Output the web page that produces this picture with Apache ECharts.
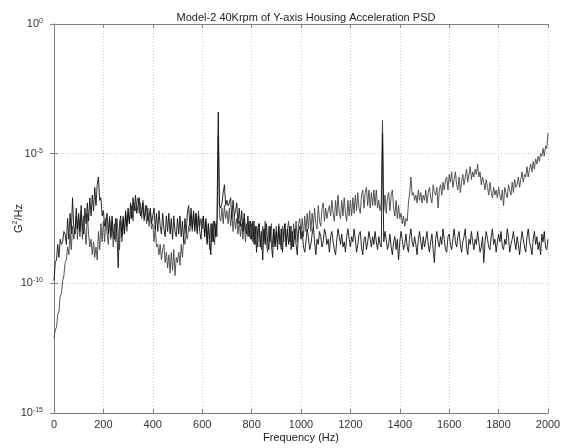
<!DOCTYPE html>
<html>
<head>
<meta charset="utf-8">
<script src="https://cdn.jsdelivr.net/npm/echarts@6/dist/echarts.min.js"></script>
<style>
  html, body { margin: 0; padding: 0; background: #fff; }
  #chart-panel { width: 567px; height: 448px; }
</style>
</head>
<body>
<div id="chart-panel"></div>
<script>
// frequency step of the sampled psd (Hz)
var STEP = 5;

// log10 of PSD (G^2/Hz), one value every 5 Hz, 0..2000 Hz
// run 1: rises above 1 kHz
var psdA = [
  -12.1,-11.8,-11.7,-11.2,-11.1,-10.5,-10.4,-9.9,-9.7,-9.2,-9.1,-8.6,-8.9,-8.1,-8.7,-7.8,-8.3,-8.0,-7.4,-8.3,
  -7.5,-8.2,-7.2,-8.3,-7.4,-8.0,-8.5,-7.3,-8.1,-8.6,-8.3,-8.9,-8.4,-9.0,-8.6,-9.1,-8.0,-8.7,-7.7,-8.4,
  -7.6,-8.4,-7.5,-8.1,-8.5,-7.4,-8.3,-7.6,-8.6,-7.7,-8.4,-7.5,-8.2,-8.7,-7.6,-8.4,-7.4,-8.1,-7.3,-8.0,
  -7.3,-7.6,-7.4,-7.0,-7.6,-6.9,-7.2,-6.9,-6.7,-7.3,-6.9,-7.5,-6.8,-7.6,-7.0,-7.7,-7.1,-7.8,-7.3,-7.9,
  -7.7,-8.4,-7.8,-8.6,-8.5,-8.9,-8.5,-9.1,-8.7,-8.5,-9.2,-8.8,-9.4,-8.9,-9.6,-8.8,-9.5,-8.7,-9.7,-9.0,
  -9.2,-8.8,-9.3,-8.5,-9.0,-8.3,-8.5,-8.1,-8.3,-7.8,-8.0,-7.4,-8.0,-7.3,-7.9,-7.3,-8.0,-7.2,-7.8,-7.5,
  -7.9,-7.5,-8.2,-7.6,-8.4,-7.7,-8.7,-7.7,-8.4,-7.6,-8.5,-7.7,-8.2,-4.3,-7.4,-7.6,-7.1,-7.7,-7.0,-7.5,
  -7.2,-7.7,-7.1,-7.8,-7.3,-8.0,-7.4,-7.9,-7.5,-8.1,-7.6,-8.2,-7.7,-8.3,-7.5,-8.4,-7.7,-8.2,-7.6,-8.3,
  -7.7,-8.4,-7.6,-8.5,-7.8,-8.6,-7.7,-8.3,-8.7,-7.8,-8.4,-7.6,-8.5,-8.8,-7.8,-8.4,-7.7,-8.6,-7.9,-8.5,
  -7.8,-8.5,-7.7,-8.4,-8.7,-7.8,-8.4,-7.7,-8.5,-7.9,-7.6,-8.4,-7.8,-8.6,-7.7,-8.3,-7.6,-8.4,-7.7,-7.5,
  -8.1,-7.5,-8.2,-7.4,-8.0,-7.3,-7.9,-7.2,-8.0,-7.3,-7.8,-7.1,-7.7,-7.9,-7.0,-7.6,-7.8,-7.1,-6.9,-7.6,
  -7.1,-7.5,-7.2,-7.0,-7.4,-6.8,-7.3,-7.6,-6.8,-7.4,-6.6,-7.3,-7.5,-6.8,-7.4,-6.7,-7.3,-7.6,-6.8,-7.4,
  -6.8,-7.4,-6.7,-7.3,-6.6,-7.2,-6.5,-7.1,-7.3,-6.6,-6.4,-7.1,-6.5,-6.3,-7.0,-6.4,-7.1,-6.5,-7.0,-6.4,
  -7.0,-6.4,-7.1,-6.8,-7.2,-6.9,-3.7,-7.2,-6.6,-7.3,-6.7,-6.5,-7.2,-6.6,-6.4,-7.1,-7.4,-6.8,-7.5,-7.0,
  -7.5,-7.3,-7.7,-7.4,-7.8,-7.5,-7.6,-6.9,-6.5,-5.9,-6.6,-6.5,-6.8,-6.6,-6.9,-6.4,-6.8,-6.5,-6.9,-6.6,
  -6.8,-6.4,-6.9,-6.5,-6.3,-6.7,-6.9,-6.2,-6.5,-6.6,-6.3,-7.1,-6.4,-6.2,-6.6,-6.1,-6.4,-6.0,-5.9,-6.4,
  -5.8,-6.1,-5.7,-6.3,-6.0,-5.7,-6.2,-6.4,-5.9,-6.5,-6.1,-5.8,-6.2,-5.9,-5.6,-6.1,-5.8,-5.5,-6.0,-5.7,
  -5.9,-5.6,-5.8,-5.4,-5.9,-5.7,-6.2,-5.9,-6.1,-6.4,-6.0,-6.3,-6.6,-6.1,-6.5,-6.7,-6.3,-6.6,-6.4,-6.7,
  -6.3,-6.6,-6.8,-6.4,-7.0,-6.3,-6.5,-6.7,-6.2,-6.4,-6.6,-6.1,-6.5,-6.0,-6.3,-6.2,-5.9,-6.3,-6.0,-5.7,
  -6.1,-5.8,-5.9,-5.5,-5.9,-5.6,-5.4,-5.7,-5.3,-5.6,-5.2,-5.4,-5.1,-5.3,-5.0,-5.1,-4.8,-5.1,-4.7,-4.8,
  -4.2
];

// run 2: stays flat above 1 kHz
var psdB = [
  -9.9,-9.2,-9.1,-8.5,-9.0,-8.3,-8.5,-8.4,-8.0,-8.1,-8.5,-7.5,-8.3,-7.3,-8.1,-6.7,-7.8,-8.1,-7.1,-7.9,
  -7.3,-8.0,-7.0,-7.8,-8.1,-7.1,-7.7,-6.9,-7.6,-6.7,-7.4,-6.6,-7.2,-6.3,-7.0,-6.2,-5.9,-6.8,-6.7,-7.4,
  -7.2,-7.8,-7.6,-7.3,-8.1,-7.5,-8.2,-7.4,-8.0,-8.3,-7.5,-8.2,-9.4,-7.7,-7.4,-8.2,-7.5,-8.1,-7.2,-7.8,
  -7.1,-7.7,-6.9,-7.5,-6.7,-7.2,-6.6,-7.3,-7.0,-6.7,-7.4,-7.2,-6.9,-7.5,-7.3,-7.0,-7.6,-7.4,-7.1,-7.7,
  -7.4,-7.1,-7.9,-7.3,-8.0,-7.2,-7.8,-8.1,-7.3,-7.9,-8.2,-7.4,-8.0,-7.3,-8.1,-7.5,-8.3,-7.4,-8.0,-8.2,
  -7.5,-8.1,-7.4,-8.2,-7.6,-8.4,-7.5,-8.1,-7.3,-7.0,-7.8,-7.1,-7.9,-7.2,-8.0,-7.3,-8.1,-7.4,-8.0,-8.3,
  -7.6,-7.4,-8.2,-7.5,-8.5,-7.7,-8.3,-8.9,-7.7,-8.4,-7.6,-8.2,-7.5,-3.4,-7.0,-7.1,-6.9,-6.5,-6.2,-7.0,
  -6.8,-7.0,-6.9,-6.7,-7.5,-6.8,-7.4,-7.2,-6.9,-7.7,-7.1,-7.8,-7.2,-8.0,-7.3,-7.9,-8.1,-7.4,-8.2,-7.6,
  -8.3,-7.6,-8.5,-7.8,-8.8,-7.9,-7.7,-8.6,-8.0,-9.1,-7.9,-8.5,-7.7,-8.4,-8.7,-7.8,-8.5,-9.0,-7.9,-8.6,
  -8.0,-8.7,-7.8,-8.5,-7.9,-8.8,-8.0,-7.7,-8.6,-7.9,-8.5,-7.8,-8.7,-8.0,-8.6,-7.9,-8.5,-8.9,-8.0,-7.8,
  -8.3,-8.0,-8.6,-8.8,-8.4,-7.9,-8.2,-8.7,-8.5,-8.1,-7.8,-8.4,-8.9,-8.3,-8.5,-8.0,-8.2,-8.6,-8.4,-7.9,
  -8.1,-8.5,-8.3,-8.8,-8.2,-8.0,-8.4,-8.7,-8.9,-8.3,-7.9,-8.2,-8.5,-8.1,-8.6,-8.4,-8.8,-8.2,-7.9,-8.3,
  -8.6,-8.2,-8.4,-7.9,-8.3,-8.8,-8.5,-8.1,-8.0,-8.6,-8.9,-8.3,-8.2,-8.7,-8.4,-8.0,-8.3,-8.6,-8.2,-8.5,
  -8.0,-8.4,-8.7,-8.2,-8.5,-8.6,-4.2,-8.4,-8.0,-8.3,-8.7,-8.5,-8.1,-8.6,-8.9,-8.4,-8.2,-8.7,-8.3,-9.1,
  -8.4,-8.0,-8.3,-8.7,-8.5,-8.1,-8.6,-8.8,-8.2,-7.9,-8.4,-8.6,-8.2,-8.5,-8.9,-8.3,-8.0,-8.4,-8.7,-8.2,
  -8.6,-8.3,-8.0,-8.5,-8.8,-8.4,-8.1,-8.7,-9.2,-8.3,-8.0,-8.4,-8.6,-8.2,-8.5,-7.9,-8.3,-8.7,-8.8,-8.2,
  -8.1,-8.5,-8.7,-8.3,-7.9,-8.4,-8.6,-8.2,-8.0,-8.5,-8.8,-8.4,-8.2,-7.9,-8.6,-8.9,-8.3,-8.5,-8.0,-8.4,
  -8.7,-8.3,-8.5,-8.0,-8.4,-8.8,-8.6,-8.2,-9.2,-8.4,-8.0,-8.3,-8.6,-8.7,-8.2,-7.9,-8.5,-8.3,-8.8,-8.4,
  -8.1,-8.4,-8.0,-8.6,-8.7,-8.3,-8.5,-7.9,-8.2,-8.8,-8.5,-8.3,-8.0,-8.4,-8.7,-8.2,-8.5,-8.9,-8.4,-8.0,
  -8.3,-8.6,-8.8,-8.2,-7.9,-8.4,-8.6,-8.9,-8.3,-8.0,-8.5,-8.2,-8.7,-8.4,-8.9,-8.1,-8.4,-8.0,-8.6,-8.7,
  -8.3
];

var FONT = 'Liberation Sans';

function toPairs(logList) {
    var out = [];
    for (var i = 0; i < logList.length; i++) {
        out.push([i * STEP, Math.pow(10, logList[i])]);
    }
    return out;
}

function powLabel(v) {
    var e = Math.round(Math.log(v) / Math.LN10);
    return '10{sup|' + e + '}';
}

var gridLine = { show: true, lineStyle: { color: '#c8c8c8', type: [1, 2], width: 1 } };
var boxLine = { show: true, lineStyle: { color: '#808080', width: 1 } };
var tickIn = { show: true, inside: true, length: 4, lineStyle: { color: '#808080' } };
var supStyle = { fontFamily: FONT, fontSize: 7, color: '#333', verticalAlign: 'top', padding: [0, 0, 6, 0] };

option = {
    animation: false,
    backgroundColor: '#fff',
    title: {
        text: 'Model-2 40Krpm of Y-axis Housing Acceleration PSD',
        left: 301,
        top: 7,
        textAlign: 'center',
        textStyle: { fontFamily: FONT, fontSize: 11, fontWeight: 'normal', color: '#222' }
    },
    grid: { left: 54, right: 19, top: 24, bottom: 35, outerBoundsMode: 'none', containLabel: false },
    xAxis: [{
        type: 'value',
        min: 0,
        max: 2000,
        interval: 200,
        axisLine: boxLine,
        axisTick: tickIn,
        splitLine: gridLine,
        axisLabel: {
            fontFamily: FONT, fontSize: 11, color: '#333', margin: 6,
            formatter: function (v) { return String(v); }
        },
        name: 'Frequency (Hz)',
        nameLocation: 'middle',
        nameGap: 19,
        nameMoveOverlap: false,
        nameTextStyle: { fontFamily: FONT, fontSize: 11, color: '#222' }
    }, {
        type: 'value',
        position: 'top',
        min: 0,
        max: 2000,
        interval: 200,
        axisLine: boxLine,
        axisTick: tickIn,
        splitLine: { show: false },
        axisLabel: { show: false }
    }],
    yAxis: [{
        type: 'log',
        logBase: 10,
        min: 1e-15,
        max: 1,
        interval: 5,
        axisLine: boxLine,
        axisTick: tickIn,
        splitLine: gridLine,
        axisLabel: {
            fontFamily: FONT, fontSize: 11, color: '#333', margin: 11,
            formatter: powLabel,
            rich: { sup: supStyle }
        },
        name: 'G{sup|2}/Hz',
        nameLocation: 'middle',
        nameRotate: 90,
        nameGap: 29,
        nameMoveOverlap: false,
        nameTextStyle: {
            fontFamily: FONT, fontSize: 11, color: '#222',
            rich: { sup: supStyle }
        }
    }, {
        type: 'log',
        logBase: 10,
        position: 'right',
        min: 1e-15,
        max: 1,
        interval: 5,
        axisLine: boxLine,
        axisTick: tickIn,
        splitLine: { show: false },
        axisLabel: { show: false }
    }],
    series: [{
        type: 'line',
        showSymbol: false,
        symbol: 'none',
        data: toPairs(psdA),
        lineStyle: { color: '#444', width: 0.9 }
    }, {
        type: 'line',
        showSymbol: false,
        symbol: 'none',
        data: toPairs(psdB),
        lineStyle: { color: '#111', width: 0.9 }
    }]
};

var myChart = echarts.init(document.getElementById('chart-panel'));
myChart.setOption(option);
</script>
</body>
</html>
